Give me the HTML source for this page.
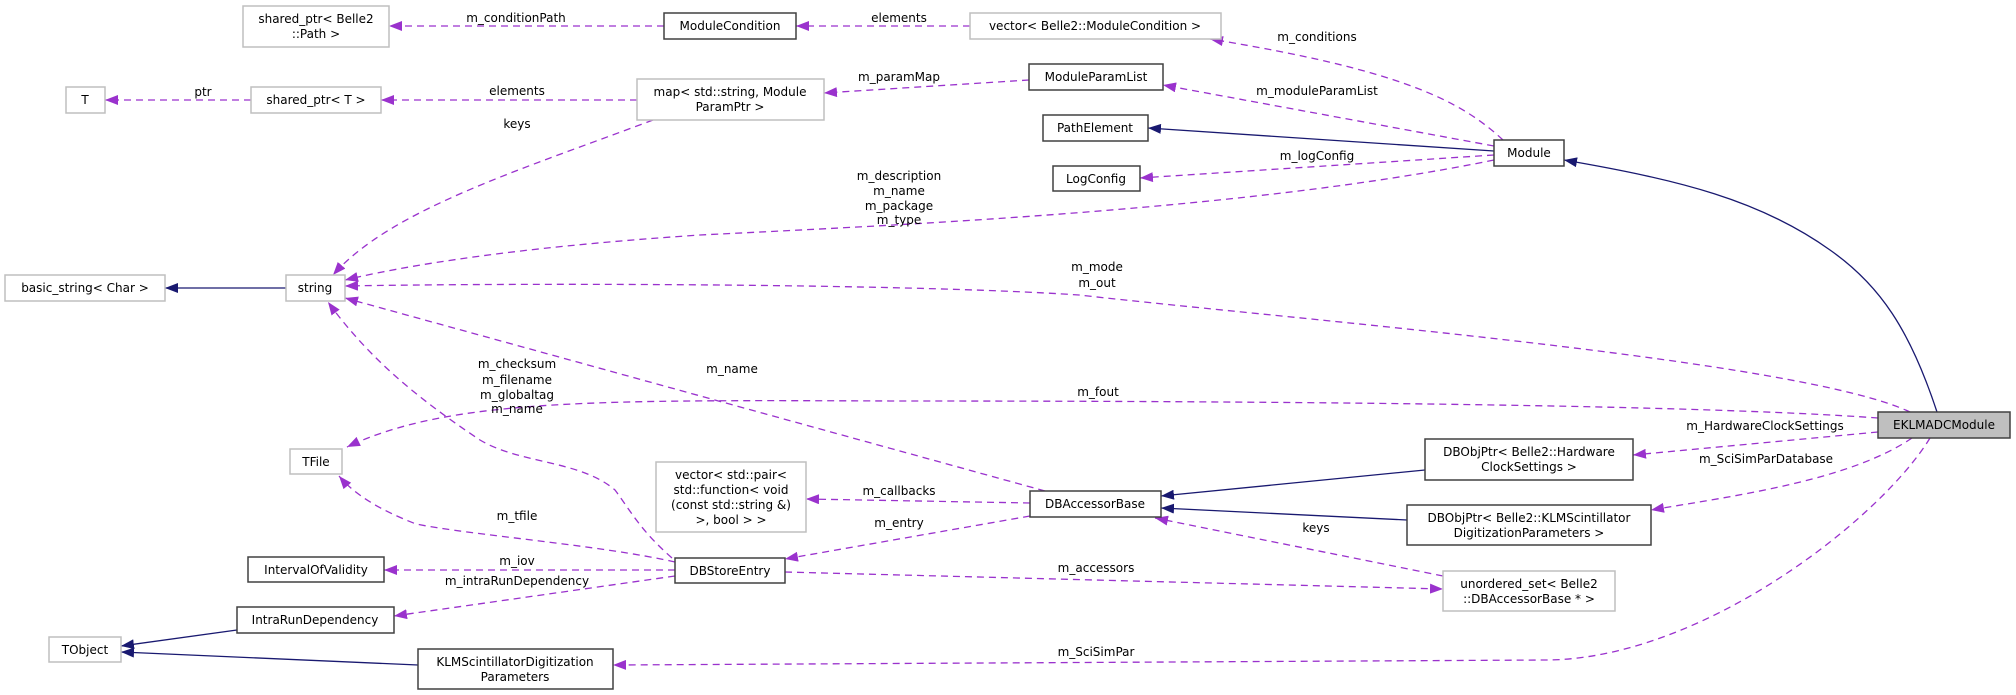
<!DOCTYPE html>
<html><head><meta charset="utf-8">
<style>
html,body{margin:0;padding:0;background:#fff;}
svg{display:block;}
text{font-family:"DejaVu Sans","Liberation Sans",sans-serif;font-size:12px;fill:#000;}
.g{fill:#fff;stroke:#bfbfbf;stroke-width:1.5}
.b{fill:#fff;stroke:#404040;stroke-width:1.5}
.p{fill:none;stroke:#9a32cd;stroke-width:1.3;stroke-dasharray:7,5}
.n{fill:none;stroke:#191970;stroke-width:1.3}
</style></head>
<body>
<svg width="2016" height="695" viewBox="0 0 2016 695" xmlns="http://www.w3.org/2000/svg">
<defs>
<marker id="ap" markerWidth="14" markerHeight="10" refX="13" refY="5" orient="auto" markerUnits="userSpaceOnUse"><path d="M0,0 L13,5 L0,10 z" fill="#9a32cd"/></marker>
<marker id="an" markerWidth="14" markerHeight="10" refX="13" refY="5" orient="auto" markerUnits="userSpaceOnUse"><path d="M0,0 L13,5 L0,10 z" fill="#191970"/></marker>
</defs>

<!-- edges -->
<path class="p" marker-end="url(#ap)" d="M664,26 L389,26"/>
<text x="516" y="22" text-anchor="middle">m_conditionPath</text>
<path class="p" marker-end="url(#ap)" d="M970,26 L796,26"/>
<text x="899" y="22" text-anchor="middle">elements</text>
<path class="p" marker-end="url(#ap)" d="M251,100 L105,100"/>
<text x="203" y="96" text-anchor="middle">ptr</text>
<path class="p" marker-end="url(#ap)" d="M637,100 L381,100"/>
<text x="517" y="95" text-anchor="middle">elements</text>
<path class="p" marker-end="url(#ap)" d="M653,120 C520,170 390,210 333,275"/>
<text x="517" y="128" text-anchor="middle">keys</text>
<path class="p" marker-end="url(#ap)" d="M1029,80 L824,93"/>
<text x="899" y="81" text-anchor="middle">m_paramMap</text>
<path class="p" marker-end="url(#ap)" d="M1503,140 C1460,100 1400,70 1210,39"/>
<text x="1317" y="41" text-anchor="middle">m_conditions</text>
<path class="p" marker-end="url(#ap)" d="M1494,146 L1163,85"/>
<text x="1317" y="95" text-anchor="middle">m_moduleParamList</text>
<path class="n" marker-end="url(#an)" d="M1494,151 L1148,128"/>
<path class="p" marker-end="url(#ap)" d="M1494,155 L1140,178"/>
<text x="1317" y="160" text-anchor="middle">m_logConfig</text>
<path class="p" marker-end="url(#ap)" d="M1494,160 C1250,210 900,225 700,235 C550,245 430,260 345,280"/>
<text x="899" y="180" text-anchor="middle">m_description</text>
<text x="899" y="195" text-anchor="middle">m_name</text>
<text x="899" y="210" text-anchor="middle">m_package</text>
<text x="899" y="224" text-anchor="middle">m_type</text>
<path class="n" marker-end="url(#an)" d="M1937,412 C1910,330 1880,285 1830,250 C1760,200 1680,180 1564,160"/>
<path class="p" marker-end="url(#ap)" d="M1910,412 C1800,360 1300,320 1079,295 C900,283 500,283 345,286"/>
<text x="1097" y="271" text-anchor="middle">m_mode</text>
<text x="1097" y="287" text-anchor="middle">m_out</text>
<path class="p" marker-end="url(#ap)" d="M1878,418 C1700,405 1300,401 900,401 C600,400 450,398 347,447"/>
<text x="1098" y="396" text-anchor="middle">m_fout</text>
<text x="517" y="368" text-anchor="middle">m_checksum</text>
<text x="517" y="384" text-anchor="middle">m_filename</text>
<text x="517" y="399" text-anchor="middle">m_globaltag</text>
<text x="517" y="413" text-anchor="middle">m_name</text>
<path class="p" marker-end="url(#ap)" d="M1878,432 L1633,455"/>
<text x="1765" y="430" text-anchor="middle">m_HardwareClockSettings</text>
<path class="p" marker-end="url(#ap)" d="M1912,438 C1850,480 1740,495 1651,510"/>
<text x="1766" y="463" text-anchor="middle">m_SciSimParDatabase</text>
<path class="p" marker-end="url(#ap)" d="M1930,438 C1880,520 1700,660 1545,660 L613,665"/>
<text x="1096" y="656" text-anchor="middle">m_SciSimPar</text>
<path class="n" marker-end="url(#an)" d="M1425,470 L1161,496"/>
<path class="n" marker-end="url(#an)" d="M1407,520 L1161,508"/>
<path class="p" marker-end="url(#ap)" d="M1045,491 L345,298"/>
<text x="732" y="373" text-anchor="middle">m_name</text>
<path class="p" marker-end="url(#ap)" d="M1030,503 L806,499"/>
<text x="899" y="495" text-anchor="middle">m_callbacks</text>
<path class="p" marker-end="url(#ap)" d="M1030,516 L785,559"/>
<text x="899" y="527" text-anchor="middle">m_entry</text>
<path class="p" marker-end="url(#ap)" d="M1443,576 L1155,518"/>
<text x="1316" y="532" text-anchor="middle">keys</text>
<path class="p" marker-end="url(#ap)" d="M785,572 L1443,589"/>
<text x="1096" y="572" text-anchor="middle">m_accessors</text>
<path class="p" marker-end="url(#ap)" d="M672,558 C640,530 630,510 615,490 C580,460 520,464 480,440 C420,400 370,360 328,302"/>
<path class="p" marker-end="url(#ap)" d="M675,562 C600,545 470,535 416,524 C380,510 355,495 339,476"/>
<text x="517" y="520" text-anchor="middle">m_tfile</text>
<path class="p" marker-end="url(#ap)" d="M675,570 L384,570"/>
<text x="517" y="565" text-anchor="middle">m_iov</text>
<path class="p" marker-end="url(#ap)" d="M675,576 L394,616"/>
<text x="517" y="585" text-anchor="middle">m_intraRunDependency</text>
<path class="n" marker-end="url(#an)" d="M237,630 L121,646"/>
<path class="n" marker-end="url(#an)" d="M418,665 L121,652"/>
<path class="n" marker-end="url(#an)" d="M286,288 L165,288"/>

<!-- nodes -->
<rect class="g" x="243" y="6" width="146" height="41"/>
<text x="316" y="23" text-anchor="middle">shared_ptr&lt; Belle2</text>
<text x="316" y="38" text-anchor="middle">::Path &gt;</text>
<rect class="b" x="664" y="13" width="132" height="26"/>
<text x="730" y="30" text-anchor="middle">ModuleCondition</text>
<rect class="g" x="970" y="13" width="251" height="26"/>
<text x="1095" y="30" text-anchor="middle">vector&lt; Belle2::ModuleCondition &gt;</text>
<rect class="g" x="66" y="87" width="39" height="26"/>
<text x="85" y="104" text-anchor="middle">T</text>
<rect class="g" x="251" y="87" width="130" height="26"/>
<text x="316" y="104" text-anchor="middle">shared_ptr&lt; T &gt;</text>
<rect class="g" x="637" y="79" width="187" height="41"/>
<text x="730" y="96" text-anchor="middle">map&lt; std::string, Module</text>
<text x="730" y="111" text-anchor="middle">ParamPtr &gt;</text>
<rect class="b" x="1029" y="64" width="134" height="26"/>
<text x="1096" y="81" text-anchor="middle">ModuleParamList</text>
<rect class="b" x="1043" y="115" width="105" height="26"/>
<text x="1095" y="132" text-anchor="middle">PathElement</text>
<rect class="b" x="1053" y="166" width="87" height="25"/>
<text x="1096" y="183" text-anchor="middle">LogConfig</text>
<rect class="b" x="1494" y="140" width="70" height="26"/>
<text x="1529" y="157" text-anchor="middle">Module</text>
<rect class="g" x="5" y="275" width="160" height="26"/>
<text x="85" y="292" text-anchor="middle">basic_string&lt; Char &gt;</text>
<rect class="g" x="286" y="275" width="59" height="26"/>
<text x="315" y="292" text-anchor="middle">string</text>
<rect class="g" x="290" y="449" width="52" height="25"/>
<text x="316" y="466" text-anchor="middle">TFile</text>
<rect class="g" x="656" y="462" width="150" height="70"/>
<text x="731" y="479" text-anchor="middle">vector&lt; std::pair&lt;</text>
<text x="731" y="494" text-anchor="middle">std::function&lt; void</text>
<text x="731" y="509" text-anchor="middle">(const std::string &amp;)</text>
<text x="731" y="524" text-anchor="middle">&gt;, bool &gt; &gt;</text>
<rect class="b" x="1030" y="491" width="131" height="26"/>
<text x="1095" y="508" text-anchor="middle">DBAccessorBase</text>
<rect class="b" x="1425" y="439" width="208" height="41"/>
<text x="1529" y="456" text-anchor="middle">DBObjPtr&lt; Belle2::Hardware</text>
<text x="1529" y="471" text-anchor="middle">ClockSettings &gt;</text>
<rect class="b" x="1407" y="505" width="244" height="40"/>
<text x="1529" y="522" text-anchor="middle">DBObjPtr&lt; Belle2::KLMScintillator</text>
<text x="1529" y="537" text-anchor="middle">DigitizationParameters &gt;</text>
<rect class="g" x="1443" y="571" width="172" height="40"/>
<text x="1529" y="588" text-anchor="middle">unordered_set&lt; Belle2</text>
<text x="1529" y="603" text-anchor="middle">::DBAccessorBase * &gt;</text>
<rect x="1878" y="412" width="132" height="26" fill="#bfbfbf" stroke="#404040" stroke-width="1.5"/>
<text x="1944" y="429" text-anchor="middle">EKLMADCModule</text>
<rect class="b" x="675" y="558" width="110" height="25"/>
<text x="730" y="575" text-anchor="middle">DBStoreEntry</text>
<rect class="b" x="248" y="557" width="136" height="25"/>
<text x="316" y="574" text-anchor="middle">IntervalOfValidity</text>
<rect class="b" x="237" y="607" width="157" height="26"/>
<text x="315" y="624" text-anchor="middle">IntraRunDependency</text>
<rect class="g" x="49" y="637" width="72" height="25"/>
<text x="85" y="654" text-anchor="middle">TObject</text>
<rect class="b" x="418" y="649" width="195" height="40"/>
<text x="515" y="666" text-anchor="middle">KLMScintillatorDigitization</text>
<text x="515" y="681" text-anchor="middle">Parameters</text>
</svg>
</body></html>
